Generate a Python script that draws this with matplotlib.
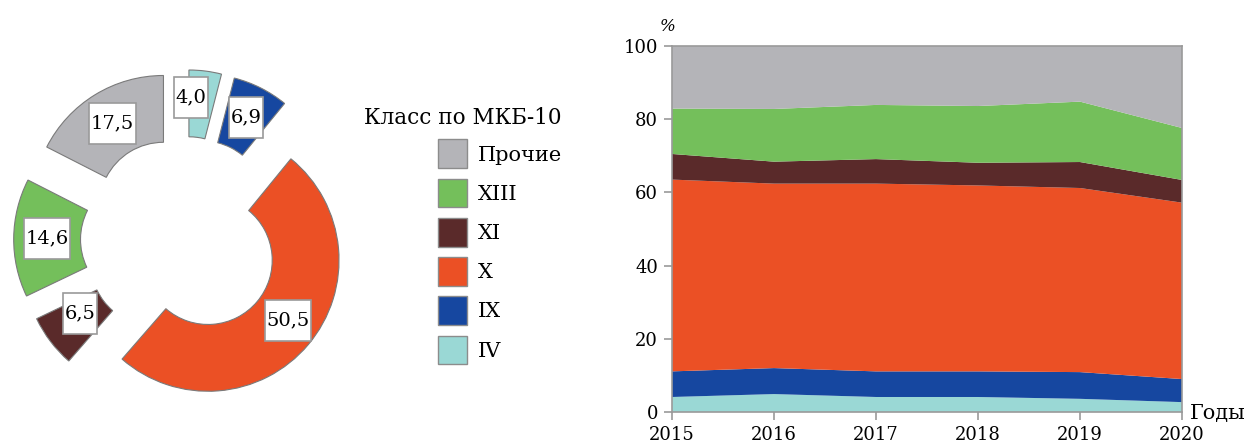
import matplotlib.pyplot as plt
from matplotlib.patches import Patch
from matplotlib.path import Path
import numpy as np

plt.rcParams['font.family'] = ['DejaVu Serif']

# ring: shares by ICD-10 class, clockwise from the top
ring_classes = ['IV', 'IX', 'X', 'XI', 'XIII', 'Прочие']
ring_values = [4.0, 6.9, 50.5, 6.5, 14.6, 17.5]
ring_explode = [0.3, 0.3, 0.24, 0.28, 0.3, 0.3]

# stacked shares by year, %
years = [2015, 2016, 2017, 2018, 2019, 2020]
share_iv = [4.1, 4.9, 4.1, 4.1, 3.6, 2.7]
share_ix = [7.0, 7.1, 7.0, 7.0, 7.3, 6.3]
share_x = [52.4, 50.4, 51.3, 50.8, 50.3, 48.2]
share_xi = [7.0, 6.0, 6.7, 6.2, 7.1, 6.2]
share_xiii = [12.4, 14.4, 14.8, 15.5, 16.5, 14.2]
share_other = [17.1, 17.2, 16.1, 16.4, 15.2, 22.4]

colors = {
    'IV': '#9ad8d5',
    'IX': '#1647a0',
    'X': '#eb5025',
    'XI': '#5a2a2a',
    'XIII': '#74bf5b',
    'Прочие': '#b4b4b8',
}

# small nudges of the value boxes on the ring (data units)
label_shift = {'IV': (-0.08, 0.05), 'X': (0.04, 0.02), 'XI': (0.02, 0.06)}

W, H = 1253, 445


def px_box(x0, y0, x1, y1):
    # pixel rectangle (y measured from the top) -> figure fraction
    return [x0 / W, 1 - y1 / H, (x1 - x0) / W, (y1 - y0) / H]


class PadBox:
    # rectangle with separate horizontal / vertical padding
    def __init__(self, padx, pady):
        self.padx = padx
        self.pady = pady

    def __call__(self, x0, y0, width, height, mutation_size):
        px = self.padx * mutation_size
        py = self.pady * mutation_size
        x0, y0 = x0 - px, y0 - py
        x1, y1 = x0 + width + 2 * px, y0 + height + 2 * py
        return Path([(x0, y0), (x1, y0), (x1, y1), (x0, y1), (x0, y0)],
                    closed=True)


fig = plt.figure(figsize=(W / 100, H / 100), dpi=100)

# --- ring chart ---
ax_pie = fig.add_axes(px_box(0, 56, 368, 424))
wedges, _ = ax_pie.pie(
    ring_values,
    colors=[colors[c] for c in ring_classes],
    explode=ring_explode,
    startangle=90,
    counterclock=False,
    wedgeprops=dict(width=0.51, edgecolor='#7a7a7a', linewidth=0.8),
)
lim = 184 / 131
ax_pie.set_xlim(-lim, lim)
ax_pie.set_ylim(-lim, lim)
ax_pie.set_aspect('equal')
ax_pie.axis('off')

for w, c, v in zip(wedges, ring_classes, ring_values):
    ang = np.deg2rad((w.theta1 + w.theta2) / 2)
    cx, cy = w.center
    dx, dy = label_shift.get(c, (0, 0))
    r = 0.745
    ax_pie.text(cx + r * np.cos(ang) + dx, cy + r * np.sin(ang) + dy,
                f'{v:.1f}'.replace('.', ','),
                ha='center', va='center', fontsize=14,
                bbox=dict(boxstyle=PadBox(0.08, 0.6), fc='white',
                          ec='#9a9a9a', lw=1.2))

# --- legend ---
order = ['Прочие', 'XIII', 'XI', 'X', 'IX', 'IV']
handles = [Patch(facecolor=colors[c], edgecolor='#8c8c8c', lw=1)
           for c in order]
fig.legend(handles, order, loc='upper right',
           bbox_to_anchor=(562 / W, 1 - 107 / H),
           title='Класс по МКБ-10', alignment='right', frameon=False,
           fontsize=15, title_fontsize=15.5,
           handlelength=1.4, handleheight=1.75, handletextpad=0.5,
           labelspacing=0.5, borderpad=0, borderaxespad=0)

# --- stacked area chart ---
ax = fig.add_axes(px_box(672, 46, 1182, 412))
ax.stackplot(years, share_iv, share_ix, share_x, share_xi, share_xiii,
             share_other,
             colors=[colors[c] for c in ring_classes], lw=0)
ax.set_xlim(2015, 2020)
ax.set_ylim(0, 100)
ax.set_xticks(years)
ax.set_yticks(range(0, 101, 20))
for s in ax.spines.values():
    s.set_color('#9a9a9a')
    s.set_linewidth(1.2)
ax.tick_params(colors='#9a9a9a', labelcolor='black', labelsize=13,
               length=6, width=1.2, direction='out')
ax.tick_params(axis='x', pad=4)
ax.tick_params(axis='y', pad=4)
ax.annotate('%', xy=(0, 1), xycoords='axes fraction',
            xytext=(-3, 14), textcoords='offset points',
            ha='center', va='center', fontsize=12, style='italic')
ax.annotate('Годы', xy=(1, 0), xycoords='axes fraction',
            xytext=(6, -1), textcoords='offset points',
            ha='left', va='center', fontsize=15)

fig.savefig('out.png', dpi=100)
